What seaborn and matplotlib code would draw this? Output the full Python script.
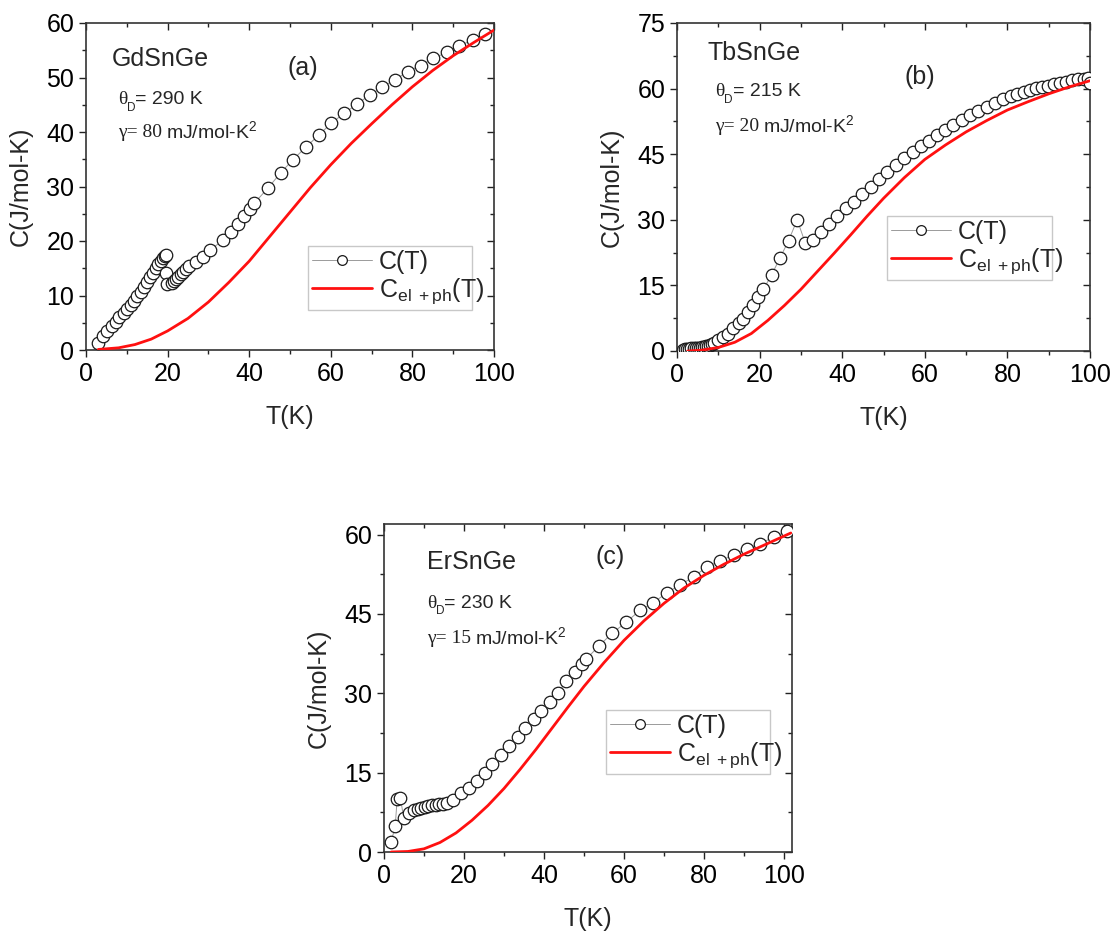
import numpy as np
import pandas as pd
import matplotlib
matplotlib.use("Agg")
import matplotlib.pyplot as plt
import seaborn as sns
from matplotlib.ticker import MultipleLocator

# ---------------- data ----------------
# (a) GdSnGe
Ta = [3.0, 4.2, 5.2, 6.3, 7.3, 8.2, 9.2, 10.1, 11.0, 11.8, 12.6, 13.4, 14.2, 15.0, 15.7,
      16.4, 17.1, 17.7, 18.3, 18.9, 19.3, 19.6, 19.6, 19.9, 21.0, 21.6, 22.1, 22.6, 23.2,
      23.8, 24.4, 25.2, 26.9, 28.6, 30.4, 33.6, 35.5, 37.2, 38.8, 40.3, 41.2, 44.7, 47.7,
      50.7, 54.0, 57.0, 60.1, 63.2, 66.4, 69.5, 72.6, 75.7, 78.9, 82.0, 85.1, 88.4, 91.5,
      94.8, 97.8]
Ca = [1.35, 2.6, 3.55, 4.4, 5.2, 6.0, 6.7, 7.5, 8.3, 9.05, 9.9, 10.7, 11.6, 12.5, 13.4,
      14.2, 15.0, 15.7, 16.3, 16.8, 17.2, 17.5, 14.1, 12.2, 12.3, 12.6, 13.0, 13.45, 13.9,
      14.4, 14.9, 15.4, 16.2, 17.0, 18.4, 20.1, 21.6, 23.1, 24.6, 25.9, 26.9, 29.8, 32.5,
      34.9, 37.3, 39.4, 41.6, 43.4, 45.1, 46.8, 48.2, 49.6, 51.1, 52.2, 53.5, 54.6, 55.8,
      56.9, 57.9]
Ta_fit = [3, 8, 12, 16, 20, 25, 30, 35, 40, 45, 50, 55, 60, 65, 70, 75, 80, 85, 90, 95, 100]
Ca_fit = [0.1, 0.4, 1.0, 2.0, 3.5, 5.8, 8.8, 12.4, 16.3, 20.8, 25.3, 29.8, 34.0, 37.9, 41.5,
          45.0, 48.3, 51.3, 54.0, 56.4, 58.7]

# (b) TbSnGe
Tb = [1.5, 2.0, 2.5, 3.0, 3.5, 4.0, 4.5, 5.0, 5.5, 6.0, 6.5, 7.0, 7.5, 8.0, 8.5, 9.0,
      10.0, 11.2, 12.4, 13.6, 14.9, 16.1, 17.3, 18.5, 19.7, 20.9, 22.9, 24.9, 27.0, 29.1,
      31.1, 33.0, 34.8, 36.9, 38.8, 40.9, 42.9, 44.9, 46.9, 49.0, 50.9, 53.0, 55.0, 57.1,
      59.0, 60.9, 62.9, 64.9, 66.8, 69.0, 71.0, 73.0, 75.0, 77.0, 78.9, 80.8, 82.4, 83.9,
      85.4, 86.9, 88.4, 89.9, 91.3, 92.8, 94.2, 95.7, 97.1, 98.5, 99.6, 99.9]
Cb = [0.3, 0.4, 0.5, 0.55, 0.6, 0.65, 0.7, 0.75, 0.8, 0.85, 0.95, 1.05, 1.2, 1.4, 1.6, 1.9,
      2.5, 3.3, 4.0, 5.2, 6.3, 7.4, 8.9, 10.5, 12.4, 14.1, 17.4, 21.2, 25.2, 30.0,
      24.6, 25.4, 27.3, 29.0, 30.9, 32.6, 34.1, 35.9, 37.6, 39.3, 41.0, 42.6, 44.1, 45.6,
      46.9, 48.1, 49.4, 50.5, 51.7, 52.8, 54.0, 54.9, 55.9, 56.8, 57.6, 58.3, 58.8, 59.3,
      59.7, 60.1, 60.4, 60.7, 61.0, 61.3, 61.6, 61.9, 62.1, 62.3, 62.5, 61.3]
Tb_fit = [2.6, 6, 10, 14, 18, 22, 26, 30, 34, 38, 42, 46, 50, 55, 60, 65, 70, 75, 80, 85,
          90, 95, 100]
Cb_fit = [0.0, 0.2, 0.8, 2.0, 4.0, 7.0, 10.4, 14.1, 18.2, 22.3, 26.5, 30.8, 34.9, 39.6, 43.8,
          47.1, 50.1, 52.7, 55.1, 57.0, 58.8, 60.4, 61.8]

# (c) ErSnGe
Tc = [1.8, 2.8, 3.3, 4.1, 4.9, 6.2, 7.5, 8.4, 9.3, 10.2, 11.1, 12.0, 12.9, 13.8, 14.7,
      15.8, 17.3, 19.2, 21.3, 23.2, 25.2, 27.1, 29.2, 31.3, 33.4, 35.3, 37.4, 39.3, 41.4,
      43.5, 45.6, 47.7, 49.6, 50.6, 53.8, 57.1, 60.5, 64.0, 67.3, 70.7, 74.0, 77.4, 80.7,
      84.1, 87.4, 90.8, 94.1, 97.5, 100.8]
Cc = [1.9, 4.9, 10.1, 10.3, 6.5, 7.4, 8.0, 8.2, 8.4, 8.55, 8.7, 8.8, 8.9, 9.0, 9.1,
      9.2, 9.9, 11.1, 12.1, 13.5, 15.0, 16.6, 18.3, 20.0, 21.7, 23.4, 25.1, 26.7, 28.4,
      30.0, 32.4, 34.1, 35.6, 36.5, 39.0, 41.4, 43.4, 45.7, 47.1, 49.0, 50.5, 52.0, 53.9,
      55.0, 56.2, 57.3, 58.3, 59.6, 60.6]
Tc_fit = [1.8, 6, 10, 14, 18, 22, 26, 30, 34, 38, 42, 46, 50, 55, 60, 65, 70, 75, 80, 85,
          90, 95, 101.7]
Cc_fit = [0.0, 0.1, 0.6, 1.8, 3.6, 6.0, 8.8, 12.0, 15.6, 19.4, 23.4, 27.4, 31.3, 35.8, 40.0,
          43.7, 47.0, 49.9, 52.3, 54.4, 56.3, 58.0, 60.3]

names = ["GdSnGe", "TbSnGe", "ErSnGe"]
letters = ["(a)", "(b)", "(c)"]
thetas = ["290", "215", "230"]
gammas = ["80", "20", "15"]

# ---------------- style ----------------
sns.set_style("ticks")
plt.rcParams["font.family"] = ["Liberation Sans", "DejaVu Sans"]
plt.rcParams["mathtext.fontset"] = "custom"
plt.rcParams["mathtext.rm"] = "Liberation Sans"
plt.rcParams["mathtext.it"] = "Liberation Sans:italic"
plt.rcParams["mathtext.default"] = "rm"

fig = plt.figure(figsize=(11.17, 9.34), dpi=100)
W, H = 1117, 934

def ax_at(x0, x1, y0, y1):
    return fig.add_axes([x0 / W, 1 - y1 / H, (x1 - x0) / W, (y1 - y0) / H])

axes = [ax_at(86, 494, 23, 350), ax_at(677, 1090, 23, 351), ax_at(384, 792, 524, 852)]
datasets = [(Ta, Ca, Ta_fit, Ca_fit), (Tb, Cb, Tb_fit, Cb_fit), (Tc, Cc, Tc_fit, Cc_fit)]
xlims = [(0, 100), (0, 100), (0, 102)]
ylims = [(0, 60), (0, 75), (0, 62)]
ymaj = [10, 15, 15]
ymin = [5, 7.5, 7.5]
name_pos = [(0.064, 0.89), (0.075, 0.909), (0.105, 0.884)]
letter_pos = [(0.532, 0.862), (0.588, 0.835), (0.554, 0.90)]
theta_pos = [(0.078, 0.765), (0.092, 0.79), (0.105, 0.759)]
gamma_pos = [(0.078, 0.664), (0.092, 0.683), (0.105, 0.652)]
leg_box = [(0.544, 0.122, 0.402, 0.217), (0.508, 0.216, 0.40, 0.217), (0.544, 0.238, 0.402, 0.216)]
serif = ["Liberation Serif", "DejaVu Serif"]

for i, ax in enumerate(axes):
    T, C, Tf, Cf = datasets[i]
    dfd = pd.DataFrame({"T": T, "C": C})
    dff = pd.DataFrame({"T": Tf, "C": Cf})
    sns.lineplot(data=dfd, x="T", y="C", ax=ax, sort=False, estimator=None,
                 color="#9a9a9a", lw=0.7, marker="o", markersize=9,
                 markerfacecolor="white", markeredgecolor="#1a1a1a",
                 markeredgewidth=0.9, label="C(T)", zorder=3)
    sns.lineplot(data=dff, x="T", y="C", ax=ax, sort=False, estimator=None,
                 color="#ff1010", lw=2.0, label=r"C$_{\mathrm{el\ +ph}}$(T)", zorder=4)
    ax.set_xlim(*xlims[i])
    ax.set_ylim(*ylims[i])
    ax.xaxis.set_major_locator(MultipleLocator(20))
    ax.xaxis.set_minor_locator(MultipleLocator(10))
    ax.yaxis.set_major_locator(MultipleLocator(ymaj[i]))
    ax.yaxis.set_minor_locator(MultipleLocator(ymin[i]))
    ax.tick_params(which="both", direction="out", labelsize=18, colors="#222222",
                   labelcolor="black", width=1.0)
    ax.tick_params(which="major", length=5)
    ax.tick_params(which="minor", length=3)
    for sp in ax.spines.values():
        sp.set_visible(True)
        sp.set_color("#333333")
        sp.set_linewidth(1.2)
    sx = ax.secondary_xaxis("top")
    sx.xaxis.set_major_locator(MultipleLocator(20))
    sx.xaxis.set_minor_locator(MultipleLocator(10))
    sx.tick_params(which="both", direction="in", labeltop=False, colors="#222222", width=1.0)
    sx.tick_params(which="major", length=5)
    sx.tick_params(which="minor", length=3)
    sy = ax.secondary_yaxis("right")
    sy.yaxis.set_major_locator(MultipleLocator(ymaj[i]))
    sy.yaxis.set_minor_locator(MultipleLocator(ymin[i]))
    sy.tick_params(which="both", direction="in", labelright=False, colors="#222222", width=1.0)
    sy.tick_params(which="major", length=5)
    sy.tick_params(which="minor", length=3)
    for sp in list(sx.spines.values()) + list(sy.spines.values()):
        sp.set_visible(False)

    ax.set_xlabel("T(K)", fontsize=18, labelpad=14)
    ax.set_ylabel("C(J/mol-K)", fontsize=18, labelpad=10)

    tx = ax.transAxes
    ax.text(*name_pos[i], names[i], transform=tx, fontsize=18, va="center", ha="left")
    ax.text(*letter_pos[i], letters[i], transform=tx, fontsize=18, va="center", ha="center")
    x0, y0 = theta_pos[i]
    th = ax.text(x0, y0, "θ", transform=tx, fontsize=14, va="center", ha="left",
                 family=serif, color="#222222")
    ax.annotate("D", xy=(1, 0.5), xycoords=th, xytext=(0, -6), textcoords="offset points",
                fontsize=8.5, va="center", ha="left")
    ax.annotate("= " + thetas[i] + " K", xy=(1, 0.5), xycoords=th, xytext=(6, 0),
                textcoords="offset points", fontsize=14, va="center", ha="left")
    x0, y0 = gamma_pos[i]
    gm = ax.text(x0, y0, "γ= " + gammas[i], transform=tx, fontsize=14, va="center", ha="left",
                 family=serif, color="#222222")
    ax.annotate("mJ/mol-K$^{2}$", xy=(1, 0.5), xycoords=gm, xytext=(3, 1),
                textcoords="offset points", fontsize=14, va="center", ha="left")

    leg = ax.legend(loc="lower left", bbox_to_anchor=leg_box[i], mode="expand",
                    fontsize=18, frameon=True, fancybox=False, edgecolor="#bbbbbb",
                    handlelength=2.4, handletextpad=0.3, borderpad=0.15,
                    labelspacing=0.1, borderaxespad=0)
    leg.get_frame().set_linewidth(1.0)
    for h in leg.legend_handles:
        try:
            h.set_markersize(7)
        except Exception:
            pass

fig.savefig("out.png", dpi=100)
